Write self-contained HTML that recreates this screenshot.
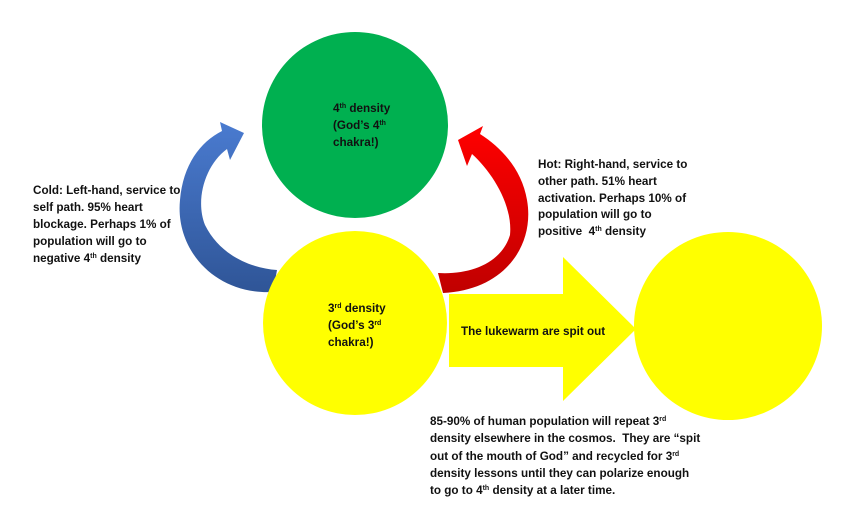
<!DOCTYPE html>
<html><head><meta charset="utf-8"><style>
body{margin:0;width:843px;height:526px;background:#fff;position:relative;overflow:hidden;font-family:"Liberation Sans",sans-serif;font-weight:bold;font-size:11.7px;color:#111}
.t{position:absolute;line-height:16.8px;white-space:nowrap}
sup{font-size:7px;vertical-align:4px;line-height:0}
svg{position:absolute;left:0;top:0}
</style></head><body>
<svg width="843" height="526">
<defs>
<linearGradient id="bg" x1="0" y1="0" x2="0" y2="1"><stop offset="0" stop-color="#4a7bd0"/><stop offset="1" stop-color="#2f5597"/></linearGradient>
<linearGradient id="rg" x1="0" y1="0" x2="0" y2="1"><stop offset="0" stop-color="#ff0000"/><stop offset="1" stop-color="#c00000"/></linearGradient>
</defs>
<circle cx="355" cy="125" r="93" fill="#00b050"/>
<path d="M273,292 C215,295 175,250 180,200 C183,165 200,142 222,131 L220,122 L244,133 L230,160 L227,149 C205,165 195,200 205,225 C220,255 250,268 277,270 Z" fill="url(#bg)"/>
<path d="M443,293 C505,290 535,245 527,200 C522,170 502,148 480,134 L483,126 L458,140 L467,166 L472,154 C492,172 513,205 510,235 C502,262 472,275 438,273 Z" fill="url(#rg)"/>
<circle cx="355" cy="323" r="92" fill="#ffff00"/>
<circle cx="728" cy="326" r="94" fill="#ffff00"/>
<polygon points="449,294 563,294 563,257 636,329 563,401 563,367 449,367" fill="#ffff00"/>
</svg>
<div class="t" style="left:333px;top:101px">4<sup>th</sup> density<br>(God’s 4<sup>th</sup><br>chakra!)</div>
<div class="t" style="left:328px;top:301px">3<sup>rd</sup> density<br>(God’s 3<sup>rd</sup><br>chakra!)</div>
<div class="t" style="left:461px;top:324px">The lukewarm are spit out</div>
<div class="t" style="left:33px;top:182px;line-height:17px">Cold: Left-hand, service to<br>self path. 95% heart<br>blockage. Perhaps 1% of<br>population will go to<br>negative 4<sup>th</sup> density</div>
<div class="t" style="left:538px;top:157px">Hot: Right-hand, service to<br>other path. 51% heart<br>activation. Perhaps 10% of<br>population will go to<br>positive &nbsp;4<sup>th</sup> density</div>
<div class="t" style="left:430px;top:413px;line-height:17.3px">85-90% of human population will repeat 3<sup>rd</sup><br>density elsewhere in the cosmos. &nbsp;They are “spit<br>out of the mouth of God” and recycled for 3<sup>rd</sup><br>density lessons until they can polarize enough<br>to go to 4<sup>th</sup> density at a later time.</div>
</body></html>
